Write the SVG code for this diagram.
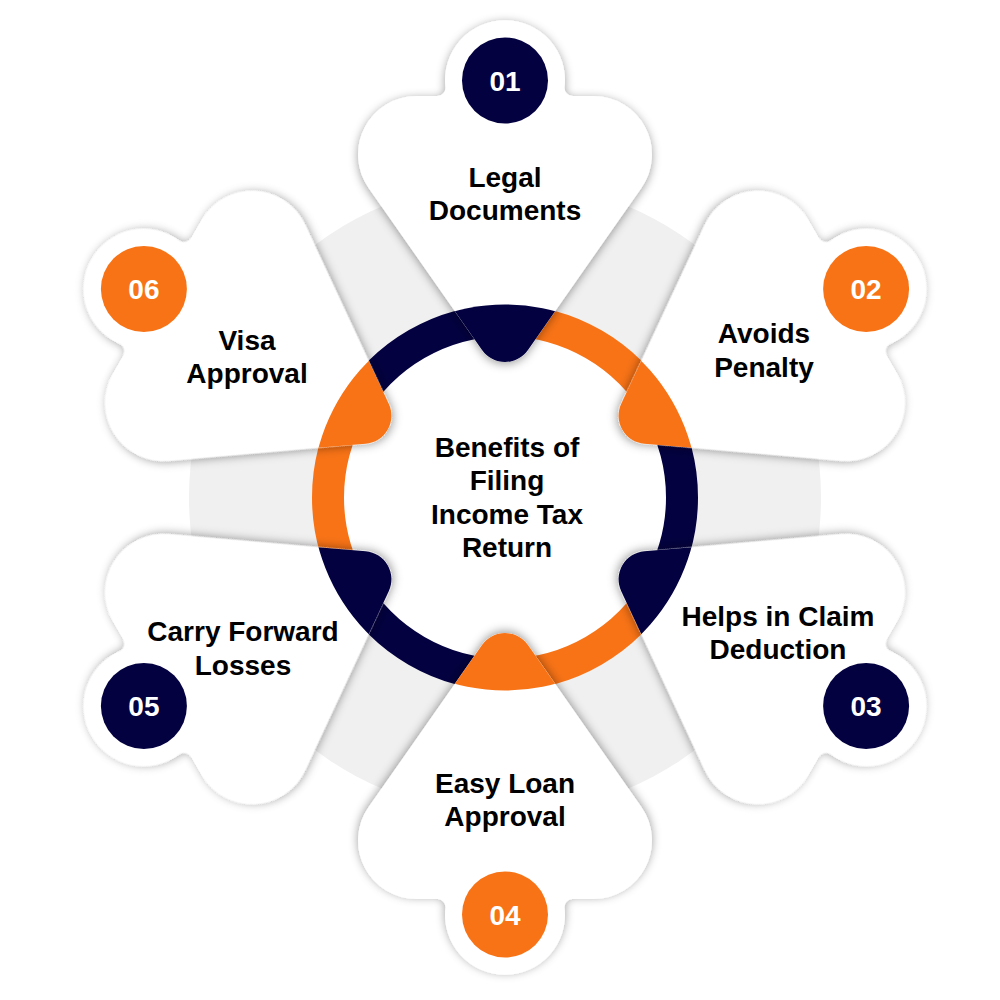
<svg xmlns="http://www.w3.org/2000/svg" xmlns:xlink="http://www.w3.org/1999/xlink" width="1000" height="1000" viewBox="0 0 1000 1000">
<style>
.pw{fill:#ffffff;filter:url(#sh);}
.navy{fill:#03013f;}
.orng{fill:#f87316;}
.lbl{font-family:"Liberation Sans",Arial,sans-serif;font-weight:bold;font-size:28px;fill:#000;text-anchor:middle;}
.num{font-family:"Liberation Sans",Arial,sans-serif;font-weight:bold;font-size:28px;fill:#fff;text-anchor:middle;}
.ring{fill:none;stroke-width:32;}
</style>
<defs>
<path id="petal" d="M 416.4,96 L 437.5,96 A 8 8 0 0 0 445.4,87.1 A 60 60 0 1 1 564.6,87.1 A 8 8 0 0 0 572.5,96 L 593.6,96 A 58.4 58.4 0 0 1 641.4,187.9 L 528,350 A 28 28 0 0 1 482,350 L 368.6,187.9 A 58.4 58.4 0 0 1 416.4,96 Z"/>
<clipPath id="ringclip" clipPathUnits="userSpaceOnUse"><circle cx="505" cy="497.5" r="193"/></clipPath>
<filter id="sh" x="-20%" y="-20%" width="140%" height="140%">
<feDropShadow dx="0" dy="2" stdDeviation="5" flood-color="#000" flood-opacity="0.38"/>
</filter>
</defs>
<rect width="1000" height="1000" fill="#ffffff"/>
<g id="background">
<circle cx="505" cy="497.5" r="316" fill="#f0f0f0"/>
<circle cx="505" cy="497.5" r="180" fill="#ffffff"/>
</g>
<g id="ring">
<path class="ring" stroke="#f87316" d="M 505,320.5 A 177 177 0 0 1 658.29,409"/>
<path class="ring" stroke="#03013f" d="M 658.29,409 A 177 177 0 0 1 658.29,586"/>
<path class="ring" stroke="#f87316" d="M 658.29,586 A 177 177 0 0 1 505,674.5"/>
<path class="ring" stroke="#03013f" d="M 505,674.5 A 177 177 0 0 1 351.71,586"/>
<path class="ring" stroke="#f87316" d="M 351.71,586 A 177 177 0 0 1 351.71,409"/>
<path class="ring" stroke="#03013f" d="M 351.71,409 A 177 177 0 0 1 505,320.5"/>
</g>
<g id="connectors"></g>
<g id="node-01">
<use xlink:href="#petal" href="#petal" class="pw"/>
<use xlink:href="#petal" href="#petal" class="navy" clip-path="url(#ringclip)"/>
<circle cx="505" cy="80.5" r="43" class="navy"/>
<text x="505" y="90.5" class="num">01</text>
<text x="505" y="187" class="lbl">Legal</text>
<text x="505" y="220" class="lbl">Documents</text>
</g>
<g id="node-02">
<use xlink:href="#petal" href="#petal" class="pw" transform="rotate(60 505 497.5)"/>
<use xlink:href="#petal" href="#petal" class="orng" clip-path="url(#ringclip)" transform="rotate(60 505 497.5)"/>
<circle cx="866.1" cy="289" r="43" class="orng"/>
<text x="866.1" y="299" class="num">02</text>
<text x="764" y="343" class="lbl">Avoids</text>
<text x="764" y="377" class="lbl">Penalty</text>
</g>
<g id="node-03">
<use xlink:href="#petal" href="#petal" class="pw" transform="rotate(120 505 497.5)"/>
<use xlink:href="#petal" href="#petal" class="navy" clip-path="url(#ringclip)" transform="rotate(120 505 497.5)"/>
<circle cx="866.1" cy="706" r="43" class="navy"/>
<text x="866.1" y="716" class="num">03</text>
<text x="778" y="626" class="lbl">Helps in Claim</text>
<text x="778" y="659" class="lbl">Deduction</text>
</g>
<g id="node-04">
<use xlink:href="#petal" href="#petal" class="pw" transform="rotate(180 505 497.5)"/>
<use xlink:href="#petal" href="#petal" class="orng" clip-path="url(#ringclip)" transform="rotate(180 505 497.5)"/>
<circle cx="505" cy="914.5" r="43" class="orng"/>
<text x="505" y="924.5" class="num">04</text>
<text x="505" y="793" class="lbl">Easy Loan</text>
<text x="505" y="826" class="lbl">Approval</text>
</g>
<g id="node-05">
<use xlink:href="#petal" href="#petal" class="pw" transform="rotate(240 505 497.5)"/>
<use xlink:href="#petal" href="#petal" class="navy" clip-path="url(#ringclip)" transform="rotate(240 505 497.5)"/>
<circle cx="143.9" cy="706" r="43" class="navy"/>
<text x="143.9" y="716" class="num">05</text>
<text x="243" y="641" class="lbl">Carry Forward</text>
<text x="243" y="675" class="lbl">Losses</text>
</g>
<g id="node-06">
<use xlink:href="#petal" href="#petal" class="pw" transform="rotate(300 505 497.5)"/>
<use xlink:href="#petal" href="#petal" class="orng" clip-path="url(#ringclip)" transform="rotate(300 505 497.5)"/>
<circle cx="143.9" cy="289" r="43" class="orng"/>
<text x="143.9" y="299" class="num">06</text>
<text x="247" y="350" class="lbl">Visa</text>
<text x="247" y="383" class="lbl">Approval</text>
</g>
<g id="node-center">
<text x="507" y="457" class="lbl">Benefits of</text>
<text x="507" y="490" class="lbl">Filing</text>
<text x="507" y="524" class="lbl">Income Tax</text>
<text x="507" y="557" class="lbl">Return</text>
</g>
</svg>
